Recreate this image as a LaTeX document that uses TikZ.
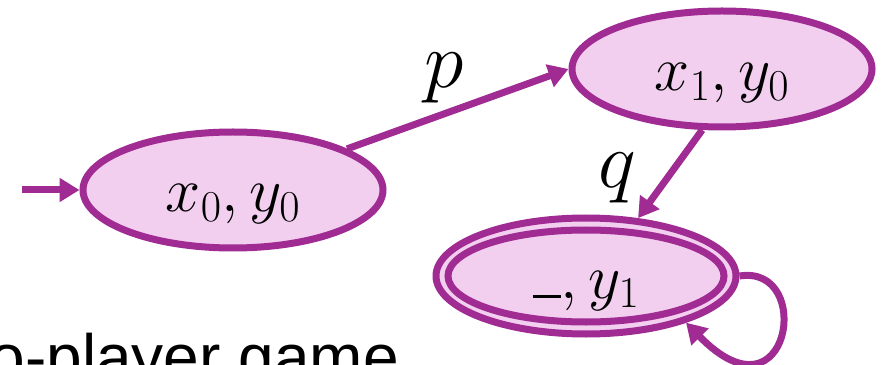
\RequirePackage{fix-cm}
\documentclass[tikz,border=0pt]{standalone}
\usepackage{fontspec}
\newfontfamily\bodysans{Liberation Sans}
\usetikzlibrary{shapes.geometric,arrows.meta}
\definecolor{purp}{HTML}{A02B93}
\definecolor{pinkfill}{HTML}{F2CEEF}
\begin{document}
\begin{tikzpicture}[x=1pt,y=1pt,
  state/.style={ellipse, draw=purp, fill=pinkfill, line width=7pt,
    minimum width=300pt, minimum height=116pt, inner sep=0pt,
    text height=50pt, text depth=6pt, font=\fontsize{63}{70}\selectfont},
  conn/.style={draw=purp, line width=7pt, -{Triangle[length=20pt,width=23pt]}},
  lbl/.style={font=\fontsize{80}{90}\selectfont, inner sep=0pt}]
\useasboundingbox (0,0) rectangle (882,364);
\node[state] (x0) at (233,174) {$x_0, y_0$};
\node[state] (x1) at (722,295) {$x_1, y_0$};
\node[state] (f) at (586,88) {};
\node[state, fill=none, minimum width=276pt, minimum height=92pt] (fi) at (f.center) {$\rule{0.45em}{0.05em}, y_1$};
\coordinate (s) at (22,174);
\draw[conn] (s) -- (x0.west);
\draw[conn] (x0) -- (x1.west);
\draw[conn] (x1.252) -- (f.48);
\draw[conn] (f.east) .. controls (815,100) and (790,-65) .. (f.-25);
\node[lbl] (p) at (444,286) {$p$};
\node[lbl] (q) at (617,186) {$q$};
\node[anchor=base east, inner sep=0pt, font=\bodysans\fontsize{64}{70}\selectfont] (cap) at (399,-15) {Two-player game};
\end{tikzpicture}
\end{document}
